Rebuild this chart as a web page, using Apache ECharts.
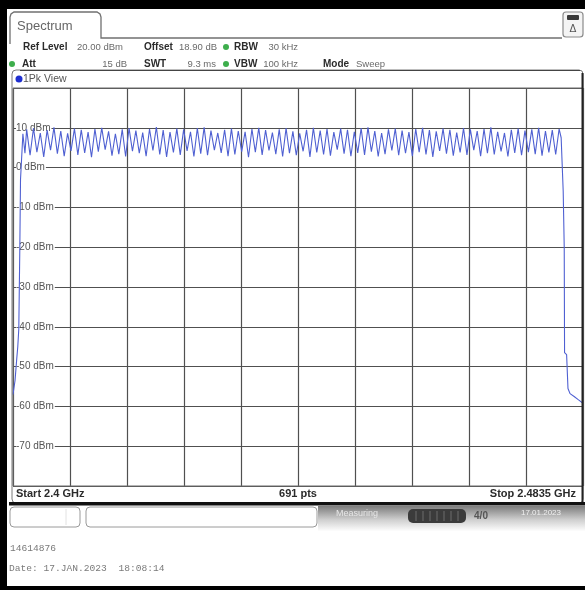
<!DOCTYPE html>
<html>
<head>
<meta charset="utf-8">
<script src="https://cdn.jsdelivr.net/npm/echarts/dist/echarts.min.js"></script>
<style>
  html, body { margin: 0; padding: 0; background: #fff; }
  #wrap { position: relative; width: 585px; height: 590px; overflow: hidden; }
  #chart { position: absolute; left: 0; top: 0; width: 585px; height: 590px; }
  .edge { position: absolute; background: #000; pointer-events: none; }
</style>
</head>
<body>
<div id="wrap">
  <div id="chart"></div>
  <div class="edge" style="left:0;top:0;width:7px;height:590px;"></div>
  <div class="edge" style="left:0;top:0;width:585px;height:9px;"></div>
  <div class="edge" style="left:0;top:586px;width:585px;height:4px;"></div>
</div>
<script>
// Sweep settings (frequencies in MHz, levels in dBm)
const startMHz = 2400.0;
const stopMHz = 2483.5;
const sweepPoints = 691;
const refLevel = 20;
const bottomLevel = -80;
const levelTicks = [10, 0, -10, -20, -30, -40, -50, -60, -70];

// Rising skirt before the first hop channel: [offset from start in MHz, dBm]
const lowerSkirt = [
  [0.0, -57.0], [0.3, -53.5], [0.55, -48.0], [0.7, -45.0], [0.85, -40.5],
  [1.0, -20.0], [1.1, -3.0], [1.45, 8.5], [1.75, 3.6]
];

// Peak level on each 1 MHz hop channel, 2402 ... 2480 MHz
const channelPeaks = [
  9.6, 9.9, 8.7, 9.4, 10.1, 9.2, 8.6, 9.8, 9.5, 8.9,
  9.7, 10.0, 9.1, 8.5, 9.6, 9.9, 9.3, 8.8, 9.7, 10.2,
  9.4, 8.9, 9.8, 9.6, 9.0, 9.9, 10.1, 9.3, 8.7, 9.5,
  9.8, 9.2, 9.0, 9.7, 10.0, 9.4, 8.8, 9.6, 9.9, 9.1,
  8.6, 9.5, 10.0, 9.3, 9.7, 8.9, 9.8, 9.5, 9.0, 9.9,
  10.1, 9.2, 8.7, 9.6, 9.8, 9.3, 8.9, 9.7, 10.0, 9.4,
  9.1, 9.8, 9.5, 8.8, 9.9, 9.6, 9.2, 9.7, 10.1, 9.0,
  8.7, 9.5, 9.8, 9.3, 9.6, 10.0, 9.2, 9.4, 9.7
];

// Dip level halfway between neighbouring channels
const channelDips = [
  3.1, 3.9, 2.7, 4.4, 3.5, 2.9, 4.2, 3.2, 3.7, 2.6,
  4.0, 4.5, 3.0, 3.4, 2.8, 4.1, 3.6, 2.9, 4.3, 3.3,
  2.7, 3.8, 3.2, 4.2, 2.8, 3.5, 3.1, 4.4, 3.7, 2.9,
  3.3, 4.0, 2.6, 3.9, 3.2, 4.3, 3.4, 2.8, 3.6, 3.1,
  4.1, 2.7, 3.8, 3.3, 3.0, 4.5, 3.5, 2.9, 3.7, 3.2,
  4.0, 2.8, 3.4, 4.3, 3.1, 3.6, 2.9, 3.9, 3.3, 2.7,
  4.2, 3.5, 3.0, 3.8, 3.2, 4.4, 2.9, 3.6, 3.3, 4.1,
  2.8, 3.7, 3.1, 3.9, 3.4, 3.0, 3.8, 3.3
];

// Falling skirt after the last channel: [offset from start in MHz, dBm]
const upperSkirt = [
  [80.3, 7.5], [80.6, -6.0], [80.75, -20.0], [80.8, -46.5], [81.1, -47.0],
  [81.3, -55.5], [81.6, -56.8], [82.2, -57.5], [82.8, -58.3], [83.5, -59.2]
];

const firstChannelOffset = 2.0;   // 2402 MHz
const channelSpacing = 1.0;       // MHz

// Assemble the trace
const trace = lowerSkirt.slice();
channelPeaks.forEach((p, k) => {
  trace.push([firstChannelOffset + k * channelSpacing, p]);
  if (k < channelDips.length) {
    trace.push([firstChannelOffset + (k + 0.5) * channelSpacing, channelDips[k]]);
  }
});
upperSkirt.forEach(pt => trace.push(pt));

const spanMHz = stopMHz - startMHz;

// ----- screen furniture -----
const G = [];
const bold10 = 'bold 10px "Liberation Sans", Arial, sans-serif';
const reg9 = '9.5px "Liberation Sans", Arial, sans-serif';
function txt(x, y, s, font, fill, align, z) {
  G.push({ type: 'text', x: x, y: y, z: z || 20,
    style: { text: s, font: font, fill: fill || '#2b2b2b',
             textAlign: align || 'left', textVerticalAlign: 'middle' } });
}
function dot(x, y, color, r) {
  G.push({ type: 'circle', z: 20, shape: { cx: x, cy: y, r: r || 3 },
    style: { fill: color || '#3dae4c' } });
}
function rect(x, y, w, h, style, r, z) {
  G.push({ type: 'rect', z: z || 5, shape: { x: x, y: y, width: w, height: h, r: r || 0 },
    style: style });
}

// "Spectrum" tab
G.push({ type: 'polyline', z: 20,
  shape: { points: [[10, 44], [10, 17], [11, 14], [14, 12], [97, 12], [100, 14], [101, 17], [101, 38], [562, 38]] },
  style: { stroke: '#707070', lineWidth: 1.3, fill: null } });
txt(17, 26, 'Spectrum', '13px "Liberation Sans", Arial, sans-serif', '#666');

// top-right display button
rect(563, 12, 20, 25, { fill: '#f4f4f4', stroke: '#8a8a8a', lineWidth: 1.2 }, 3, 20);
rect(567, 15, 12, 5, { fill: '#3a3a3a' }, 1, 21);
txt(573, 29, 'Δ', '10px "DejaVu Sans", sans-serif', '#555', 'center', 22);

// settings rows
txt(23, 47, 'Ref Level', bold10);
txt(77, 47, '20.00 dBm', reg9, '#6a6a6a');
txt(144, 47, 'Offset', bold10);
txt(179, 47, '18.90 dB', reg9, '#6a6a6a');
dot(226, 47);
txt(234, 47, 'RBW', bold10);
txt(298, 47, '30 kHz', reg9, '#6a6a6a', 'right');

dot(12, 64);
txt(22, 64, 'Att', bold10);
txt(127, 64, '15 dB', reg9, '#6a6a6a', 'right');
txt(144, 64, 'SWT', bold10);
txt(216, 64, '9.3 ms', reg9, '#6a6a6a', 'right');
dot(226, 64);
txt(234, 64, 'VBW', bold10);
txt(298, 64, '100 kHz', reg9, '#6a6a6a', 'right');
txt(323, 64, 'Mode', bold10);
txt(356, 64, 'Sweep', reg9, '#6a6a6a');

// diagram panel
rect(12, 70, 571, 433, { fill: null, stroke: '#7a7a7a', lineWidth: 1 }, 4, 18);
G.push({ type: 'line', z: 19, shape: { x1: 582.5, y1: 73, x2: 582.5, y2: 503 },
  style: { stroke: '#222', lineWidth: 2 } });
G.push({ type: 'line', z: 19, shape: { x1: 20, y1: 70.5, x2: 580, y2: 70.5 },
  style: { stroke: '#444', lineWidth: 1.2 } });
dot(19, 79, '#1f2fd0', 3.5);
txt(23, 79, '1Pk View', '10.5px "Liberation Sans", Arial, sans-serif', '#555');

// plot frame
rect(13, 88, 570, 398, { fill: null, stroke: '#6a6a6a', lineWidth: 1 }, 0, 3);

// footer of the diagram
txt(16, 494, 'Start 2.4 GHz', 'bold 11px "Liberation Sans", Arial, sans-serif', '#2b2b2b');
txt(298, 494, sweepPoints + ' pts', 'bold 11px "Liberation Sans", Arial, sans-serif', '#2b2b2b', 'center');
txt(576, 494, 'Stop 2.4835 GHz', 'bold 11px "Liberation Sans", Arial, sans-serif', '#2b2b2b', 'right');
rect(9, 502, 576, 3.5, { fill: '#111' }, 0, 25);

// status bar
rect(10, 507, 70, 20, { fill: '#fff', stroke: '#9a9a9a', lineWidth: 1 }, 4, 20);
G.push({ type: 'line', z: 21, shape: { x1: 66, y1: 509, x2: 66, y2: 525 },
  style: { stroke: '#e2e2e2', lineWidth: 1 } });
rect(86, 507, 231, 20, { fill: '#fff', stroke: '#9a9a9a', lineWidth: 1 }, 4, 20);
rect(318, 506, 267, 25, {
  fill: { type: 'linear', x: 0, y: 0, x2: 0, y2: 1,
          colorStops: [{ offset: 0, color: '#7c7c7c' }, { offset: 0.55, color: '#cfcfcf' }, { offset: 1, color: '#fdfdfd' }] }
}, 0, 20);
txt(336, 514, 'Measuring', '9px "Liberation Sans", Arial, sans-serif', '#e6e6e6');
rect(408, 509, 58, 14, { fill: '#3b3b3b' }, 5, 21);
[416, 423, 430, 437, 444, 451, 458].forEach(function (x) {
  G.push({ type: 'line', z: 22, shape: { x1: x, y1: 511, x2: x, y2: 521 },
    style: { stroke: '#6c6c6c', lineWidth: 1 } });
});
txt(481, 516, '4/0', 'bold 10px "Liberation Sans", Arial, sans-serif', '#555', 'center');
txt(541, 513, '17.01.2023', '8px "Liberation Sans", Arial, sans-serif', '#f0f0f0', 'center');

// print stamp
txt(10, 548, '14614876', '9.6px "Liberation Mono", "DejaVu Sans Mono", monospace', '#7a7a7a');
txt(9, 568, 'Date: 17.JAN.2023  18:08:14', '9.6px "Liberation Mono", "DejaVu Sans Mono", monospace', '#7a7a7a');

const chart = echarts.init(document.getElementById('chart'), null, { renderer: 'canvas' });
chart.setOption({
  animation: false,
  backgroundColor: '#fff',
  grid: { left: 13, top: 88, width: 570, height: 398, containLabel: false },
  xAxis: {
    type: 'value', min: 0, max: spanMHz, interval: spanMHz / 10,
    axisLine: { show: false }, axisTick: { show: false }, axisLabel: { show: false },
    splitLine: { show: true, lineStyle: { color: '#505050', width: 1.2 } }
  },
  yAxis: {
    type: 'value', min: bottomLevel, max: refLevel, interval: 10,
    axisLine: { show: false }, axisTick: { show: false },
    axisLabel: {
      inside: true, margin: 3, showMinLabel: false, showMaxLabel: false,
      color: '#555', fontSize: 10, fontFamily: '"Liberation Sans", Arial, sans-serif',
      backgroundColor: '#fff', padding: [1, 1, 1, 0],
      formatter: function (v) { return levelTicks.indexOf(v) >= 0 ? v + ' dBm' : ''; }
    },
    splitLine: { show: true, lineStyle: { color: '#505050', width: 1.2 } }
  },
  series: [{
    type: 'line', data: trace, showSymbol: false, symbol: 'none',
    lineStyle: { color: '#4f60d2', width: 1.1 }, z: 5
  }],
  graphic: { elements: G }
});
</script>
</body>
</html>
